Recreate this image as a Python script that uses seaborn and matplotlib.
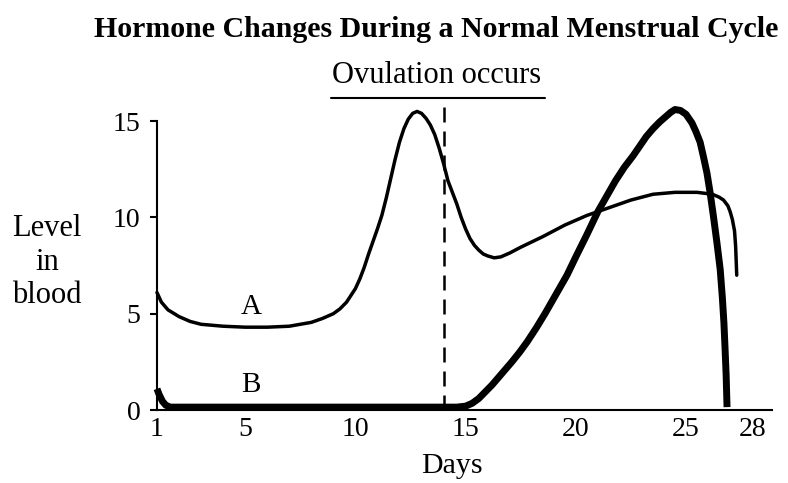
import pandas as pd
import matplotlib
matplotlib.use("Agg")
import matplotlib.pyplot as plt
import seaborn as sns

# Hormone A (thin line) - day, level
days_a = [1.0, 1.2, 1.5, 2.0, 2.5, 3.0, 4.0, 5.0, 6.0, 7.0, 7.5, 8.0, 8.5, 9.0,
          9.3, 9.6, 9.8, 10.0, 10.2, 10.4, 10.6, 10.8, 11.0, 11.2, 11.4, 11.6,
          11.8, 12.0, 12.2, 12.4, 12.6, 12.8, 13.0, 13.2, 13.4, 13.6, 13.8, 14.0,
          14.2, 14.4, 14.6, 14.8, 15.0, 15.2, 15.4, 15.6, 15.8, 16.0, 16.3, 16.6,
          17.0, 17.5, 18.5, 19.5, 20.5, 21.5, 22.5, 23.5, 24.5, 25.5, 26.2, 26.5,
          26.7, 26.9, 27.0, 27.1, 27.2, 27.25, 27.3]
level_a = [6.1, 5.6, 5.2, 4.85, 4.6, 4.45, 4.35, 4.3, 4.3, 4.35, 4.45, 4.55, 4.75, 5.0,
           5.25, 5.6, 5.95, 6.3, 6.8, 7.4, 8.1, 8.75, 9.4, 10.1, 11.0, 12.0,
           13.0, 13.9, 14.6, 15.1, 15.4, 15.5, 15.4, 15.15, 14.8, 14.3, 13.6, 12.8,
           11.9, 11.3, 10.7, 10.0, 9.4, 8.9, 8.55, 8.3, 8.1, 8.0, 7.9, 7.95,
           8.15, 8.45, 9.0, 9.6, 10.1, 10.5, 10.9, 11.2, 11.3, 11.3, 11.2, 11.05,
           10.9, 10.6, 10.3, 9.9, 9.3, 8.5, 7.0]

# Hormone B (thick line)
days_b = [1.0, 1.1, 1.25, 1.4, 1.6, 2, 4, 6, 8, 10, 12, 14, 14.6, 15.0, 15.3,
          15.6, 15.9, 16.2, 16.5, 16.8, 17.1, 17.45, 17.8, 18.2, 18.6, 19.0, 19.3,
          19.6, 20.0, 20.5, 21.0, 21.4, 21.8, 22.2, 22.6, 22.9, 23.2, 23.5, 23.8,
          24.1, 24.3, 24.5, 24.75, 25.0, 25.27, 25.45, 25.64, 25.8, 25.95, 26.09,
          26.25, 26.4, 26.55, 26.65, 26.72, 26.77, 26.82, 26.86]
level_b = [1.1, 0.8, 0.45, 0.25, 0.15, 0.15, 0.15, 0.15, 0.15, 0.15, 0.15, 0.15, 0.15, 0.2, 0.35,
           0.6, 0.95, 1.3, 1.7, 2.1, 2.5, 3.0, 3.55, 4.25, 5.0, 5.8, 6.4,
           7.0, 7.95, 9.1, 10.3, 11.1, 11.9, 12.6, 13.2, 13.7, 14.2, 14.6, 14.95,
           15.25, 15.45, 15.6, 15.55, 15.35, 14.9, 14.45, 13.9, 13.1, 12.3, 11.3,
           10.0, 8.7, 7.3, 5.8, 4.5, 3.2, 1.8, 0.15]

x_ticks = [1, 5, 10, 15, 20, 25, 28]
y_ticks = [0, 5, 10, 15]
ovulation_day = 14
ovulation_span = [8.9, 18.6]

df_a = pd.DataFrame({"Days": days_a, "Level": level_a})
df_b = pd.DataFrame({"Days": days_b, "Level": level_b})

sns.set_theme(style="ticks", rc={
    "text.color": "black", "axes.labelcolor": "black",
    "xtick.color": "black", "ytick.color": "black", "axes.edgecolor": "black",
})
plt.rcParams["font.family"] = ["Liberation Serif", "DejaVu Serif"]

fig = plt.figure(figsize=(7.88, 4.83), dpi=100)
ax = fig.add_axes([0.1992, 0.1511, 0.7805, 0.6501])

sns.lineplot(data=df_a, x="Days", y="Level", color="black", linewidth=2.5,
             estimator=None, ax=ax, solid_joinstyle="round")
sns.lineplot(data=df_b, x="Days", y="Level", color="black", linewidth=5,
             estimator=None, ax=ax, solid_capstyle="butt", solid_joinstyle="round")
for ln in ax.lines:
    ln.set_clip_on(False)

# ovulation marker
ax.plot([ovulation_day, ovulation_day], [0, 16.1], color="black", lw=1.8,
        dashes=(6, 3.6), clip_on=False)
ax.plot(ovulation_span, [16.2, 16.2], color="black", lw=1.5, clip_on=False)
ax.text(sum(ovulation_span) / 2 - 0.05, 17.0, "Ovulation occurs", ha="center",
        va="baseline", fontsize=22, clip_on=False)

ax.text(5.27, 5.35, "A", ha="center", va="center", fontsize=21)
ax.text(5.27, 1.28, "B", ha="center", va="center", fontsize=21)

ax.set_xlim(1, 28.9)
ax.set_ylim(0, 16.3)
ax.set_xticks(x_ticks)
ax.set_yticks(y_ticks)
ax.tick_params(axis="x", length=0, pad=5, labelsize=20)
ax.tick_params(axis="y", length=5, width=1.5, pad=7, labelsize=20)

sns.despine(ax=ax)
ax.spines["left"].set_bounds(0, 15)
ax.spines["left"].set_linewidth(1.5)
ax.spines["bottom"].set_linewidth(1.5)

ax.set_xlabel("Days", fontsize=21.5, va="baseline")
ax.xaxis.set_label_coords(0.48, -0.2)
ax.set_ylabel("Level\nin\nblood", rotation=0, fontsize=22, ha="center",
              va="center", linespacing=1.2)
ax.yaxis.set_label_coords(-0.179, 0.471)

fig.text(0.553, 0.923, "Hormone Changes During a Normal Menstrual Cycle",
         ha="center", va="baseline", fontsize=21.5, fontweight="bold")

fig.savefig("out.png", dpi=100)
